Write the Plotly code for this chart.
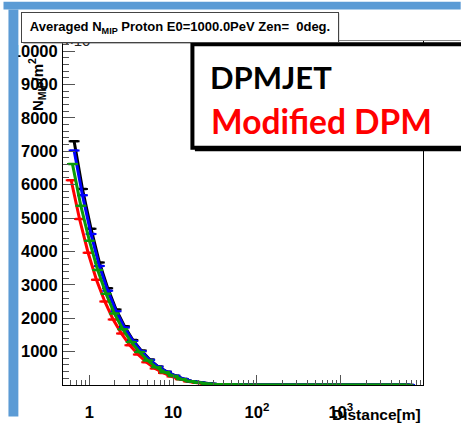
import plotly.graph_objects as go

# ---------------- data ----------------
distance = [0.66, 0.83, 1.05, 1.32, 1.66, 2.09, 2.63, 3.31, 4.17, 5.25,
            6.61, 8.32, 10.5, 13.2, 16.6, 20.9, 26.3, 33.1, 41.7, 52.5,
            66.1, 83.2, 105, 132, 166, 209, 263, 331, 417, 525,
            661, 832, 1047, 1318, 1660, 2089, 2630, 3311, 4169, 5248, 6607]

black_vals = [7300, 5870, 4680, 3670, 2900, 2260, 1760, 1350, 1030, 760,
              552, 400, 280, 182, 115, 71, 42, 25, 15, 8,
              5, 3, 2, 1.5, 1, 0.8, 0.6, 0.4, 0.3, 0.2,
              0.15, 0.1, 0.08, 0.06, 0.04, 0.03, 0.02, 0.02, 0.01, 0.01, 0.01]
blue_vals = [7020, 5680, 4520, 3560, 2820, 2210, 1720, 1320, 1010, 750,
             545, 395, 278, 180, 113, 70, 41, 25, 15, 8,
             5, 3, 2, 1.5, 1, 0.8, 0.6, 0.4, 0.3, 0.2,
             0.15, 0.1, 0.08, 0.06, 0.04, 0.03, 0.02, 0.02, 0.01, 0.01, 0.01]
green_vals = [6620, 5370, 4320, 3440, 2730, 2140, 1670, 1290, 985, 730,
              530, 385, 270, 175, 110, 68, 40, 24, 14, 8,
              5, 3, 2, 1.5, 1, 0.8, 0.6, 0.4, 0.3, 0.2,
              0.15, 0.1, 0.08, 0.06, 0.04, 0.03, 0.02, 0.02, 0.01, 0.01, 0.01]
red_vals = [6130, 4970, 3960, 3150, 2500, 1960, 1540, 1190, 910, 680,
            495, 360, 255, 170, 105, 65, 38, 22, 13, 7,
            4, 2.5, 1.8, 1.2, 0.9, 0.7, 0.5, 0.35, 0.25, 0.2,
            0.12, 0.1, 0.07, 0.05, 0.04, 0.03, 0.02, 0.02, 0.01, 0.01, 0.01]

x_tick_vals = [1, 10, 100, 1000]
x_tick_text = ["1", "10", "10<sup>2</sup>", "10<sup>3</sup>"]
y_tick_vals = [1000, 2000, 3000, 4000, 5000, 6000, 7000, 8000, 9000, 10000]
y_tick_text = ["1000", "2000", "3000", "4000", "5000", "6000", "7000", "8000", "9000", "10000"]

title_text = "Averaged N<sub>MIP</sub> Proton E0=1000.0PeV Zen=&nbsp; 0deg."
legend_lines = ["DPMJET", "Modified DPM"]

# ---------------- geometry helpers (pixels -> paper) ----------------
W, H = 461, 433
L, R, T, B = 60, 423, 41, 400


def px(x):
    return (x - L) / (R - L)


def py(y):
    return (B - y) / (B - T)


HALF_BIN = 10 ** 0.05
FONT = "Liberation Sans, Arial, sans-serif"

fig = go.Figure()

series = [
    ("red", red_vals, "#ff0000", 10 ** -0.035),
    ("black", black_vals, "#000000", 1.0),
    ("blue", blue_vals, "#0000ff", 1.0),
    ("green", green_vals, "#0a9a0a", 10 ** -0.02),
]
for name, vals, col, shift in series:
    xs = [d * shift for d in distance]
    fig.add_trace(go.Scatter(
        x=xs, y=vals, mode="lines", name=name,
        line=dict(color=col, width=3),
        error_x=dict(type="data", symmetric=False,
                     array=[x * (HALF_BIN - 1) for x in xs],
                     arrayminus=[x * (1 - 1 / HALF_BIN) for x in xs],
                     color=col, thickness=2.5, width=1),
        showlegend=False,
    ))

tickfont = dict(family=FONT, size=16.5, color="black", weight="bold")

fig.update_layout(
    width=W, height=H,
    margin=dict(l=L, r=W - R, t=T, b=H - B, pad=0),
    paper_bgcolor="white", plot_bgcolor="white",
    xaxis=dict(type="log", range=[-0.313, 3.98], showgrid=False, zeroline=False,
               showline=True, linecolor="black", linewidth=1, mirror=True,
               ticks="inside", ticklen=10, tickcolor="#555555", tickwidth=1,
               tickvals=x_tick_vals, ticktext=x_tick_text, tickfont=tickfont,
               ticklabelstandoff=12,
               minor=dict(ticks="inside", ticklen=5, tickcolor="#555555", dtick="D1", showgrid=False)),
    yaxis=dict(range=[0, 10300], showgrid=False, zeroline=False,
               showline=True, linecolor="black", linewidth=1, mirror=True,
               ticks="inside", ticklen=12, tickcolor="#555555", tickwidth=1,
               tickvals=y_tick_vals, ticktext=y_tick_text, tickfont=tickfont,
               ticklabelstandoff=1,
               minor=dict(ticks="inside", ticklen=6, tickcolor="#555555", dtick=200, showgrid=False)),
)

shapes = []
# slide blue frame
shapes.append(dict(type="rect", xref="paper", yref="paper", x0=px(0), x1=px(W), y0=py(0), y1=py(8),
                   fillcolor="#5b9bd5", line=dict(width=0), layer="above"))
shapes.append(dict(type="rect", xref="paper", yref="paper", x0=px(5), x1=px(15), y0=py(8), y1=py(H),
                   fillcolor="#5b9bd5", line=dict(width=0), layer="above"))
# thin pad line right of the title
shapes.append(dict(type="line", xref="paper", yref="paper", x0=px(337), x1=px(W), y0=py(40.5), y1=py(40.5),
                   line=dict(color="#888888", width=1), layer="above"))
# title box shadow
shapes.append(dict(type="rect", xref="paper", yref="paper", x0=px(20), x1=px(338.5), y0=py(12), y1=py(43.5),
                   fillcolor="#777777", line=dict(width=0), layer="above"))
# legend box shadow + box
shapes.append(dict(type="rect", xref="paper", yref="paper", x0=px(193), x1=px(480), y0=py(47), y1=py(156),
                   fillcolor="black", line=dict(width=0), layer="above"))
shapes.append(dict(type="rect", xref="paper", yref="paper", x0=px(190.5), x1=px(478), y0=py(44.5), y1=py(152.5),
                   fillcolor="white", line=dict(color="black", width=4), layer="above"))
fig.update_layout(shapes=shapes)

annotations = []
# x10^3 exponent at top of y axis
annotations.append(dict(text="×10<sup>3</sup>", xref="paper", yref="paper", x=px(60), y=py(51),
                        xanchor="left", yanchor="bottom", showarrow=False,
                        font=dict(family=FONT, size=15, color="#222222")))
# title box
annotations.append(dict(text=title_text, xref="paper", yref="paper", x=px(178), y=py(26.5),
                        xanchor="center", yanchor="middle", showarrow=False,
                        width=316, height=29, borderpad=0, align="center",
                        bgcolor="white", bordercolor="#444444", borderwidth=1,
                        font=dict(family=FONT, size=13, color="black", weight="bold")))
# y axis title
annotations.append(dict(text="N<sub>MIP</sub>/m<sup>2</sup>", xref="paper", yref="paper", x=px(34), y=py(57),
                        xanchor="center", yanchor="top", textangle=-90, showarrow=False,
                        font=dict(family=FONT, size=15, color="black", weight="bold")))
# x axis title
annotations.append(dict(text="Distance[m]", xref="paper", yref="paper", x=px(423), y=py(420),
                        xanchor="right", yanchor="top", showarrow=False,
                        font=dict(family=FONT, size=15.5, color="black", weight="bold")))
# legend text
annotations.append(dict(text=legend_lines[0], xref="paper", yref="paper", x=px(206), y=py(79),
                        xanchor="left", yanchor="middle", showarrow=False,
                        font=dict(family="Lato, sans-serif", size=31, color="black", weight="bold")))
annotations.append(dict(text=legend_lines[1], xref="paper", yref="paper", x=px(207), y=py(124),
                        xanchor="left", yanchor="middle", showarrow=False,
                        font=dict(family="Lato, sans-serif", size=33.5, color="#ff0000", weight="bold")))
fig.update_layout(annotations=annotations)

fig.write_html("out.html")
